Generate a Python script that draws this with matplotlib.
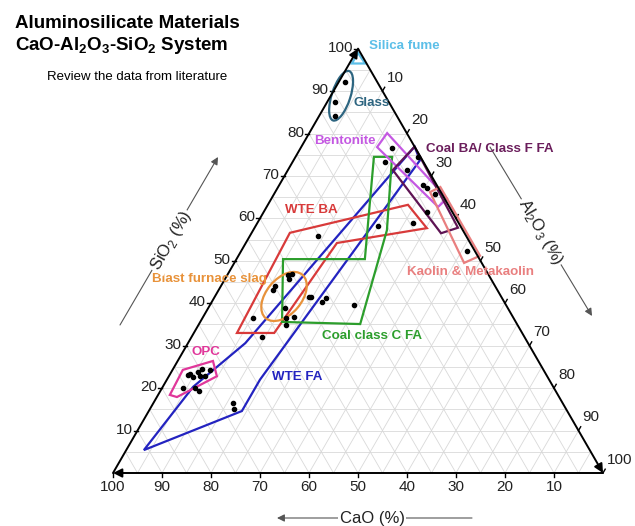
import numpy as np
import matplotlib.pyplot as plt
from matplotlib.patches import Polygon, Ellipse

plt.rcParams['font.family'] = ['Liberation Sans', 'DejaVu Sans']
plt.rcParams['mathtext.fontset'] = 'custom'
plt.rcParams['mathtext.rm'] = 'Liberation Sans'
plt.rcParams['mathtext.bf'] = 'Liberation Sans:bold'

# compositions as (CaO, Al2O3, SiO2) in %
silica_fume = [(0.5, 0.5, 99.0), (3.0, 0.5, 96.5), (0.3, 3.2, 96.5)]
glass_center = (9.0, 2.1, 88.9)
slag_center = (44.3, 14.1, 41.6)
bentonite = [(7.7, 15.5, 76.8), (4.0, 15.9, 80.1), (-0.5, 35.8, 64.7), (2.3, 35.0, 62.7)]
coal_ba_f = [(0.0, 23.1, 76.9), (7.2, 21.4, 71.4), (4.8, 38.7, 56.5), (0.7, 41.5, 57.8)]
kaolin = [(2.2, 31.6, 66.2), (-0.5, 33.1, 67.4), (-0.5, 49.3, 51.2), (3.6, 46.9, 49.5)]
wte_ba = [(58.2, 8.8, 33.0), (35.6, 7.8, 56.6), (8.2, 28.6, 63.2), (7.1, 35.2, 57.7),
          (27.2, 18.6, 54.2), (50.6, 16.4, 33.0)]
coal_c = [(47.7, 16.7, 35.6), (40.1, 9.5, 50.4), (23.4, 26.2, 50.4), (9.5, 16.0, 74.5),
          (5.8, 19.7, 74.5), (15.5, 27.3, 57.2), (32.0, 32.9, 35.1)]
wte_fa = [(91.0, 3.6, 5.4), (73.5, 6.2, 20.3), (57.7, 11.7, 30.6), (0.0, 23.1, 76.9),
          (0.5, 25.8, 73.7), (59.0, 19.0, 22.0), (66.4, 19.0, 14.6)]
opc = [(79.2, 2.4, 18.4), (73.6, 2.1, 24.3), (66.4, 7.2, 26.4), (67.4, 9.8, 22.8), (78.0, 4.1, 17.9)]

pts_glass = [(6.6, 1.3, 92.1), (11.0, 1.6, 87.4), (12.6, 3.3, 84.1)]
pts_upper = [(4.8, 18.6, 76.6), (7.8, 18.9, 73.3), (4.3, 24.3, 71.4), (0.5, 25.0, 74.5),
             (2.8, 29.3, 67.9), (2.3, 30.5, 67.2), (1.4, 32.8, 65.8), (5.2, 33.3, 61.5),
             (9.3, 31.8, 58.9), (16.8, 25.0, 58.2), (1.6, 46.1, 52.3)]
pts_middle = [(30.2, 13.9, 55.9), (41.0, 12.4, 46.6), (40.0, 13.1, 46.9), (41.2, 13.1, 45.7),
              (44.9, 11.0, 44.1), (45.8, 11.1, 43.1), (45.5, 15.7, 38.8), (53.2, 10.3, 36.5),
              (46.4, 17.1, 36.5), (44.7, 18.6, 36.7), (47.3, 17.9, 34.8), (53.6, 14.4, 32.0),
              (39.3, 19.3, 41.4), (38.9, 19.7, 41.4), (35.9, 22.9, 41.2), (37.2, 22.5, 40.3),
              (31.0, 29.4, 39.6)]
pts_wte_fa = [(67.3, 16.2, 16.5), (67.8, 17.2, 15.0)]
pts_opc = [(75.7, 4.3, 20.0), (72.6, 4.1, 23.3), (72.4, 5.0, 22.6), (70.8, 5.4, 23.8),
           (70.8, 6.3, 22.9), (69.6, 5.9, 24.5), (69.8, 7.4, 22.8), (68.1, 7.7, 24.2),
           (73.3, 6.7, 20.0), (72.8, 7.9, 19.3), (73.1, 3.8, 23.1)]

ticks = [10, 20, 30, 40, 50, 60, 70, 80, 90, 100]

H = np.sqrt(3) / 2


def tern(pts):
    a = np.atleast_2d(np.array(pts, dtype=float))
    tot = a.sum(axis=1)
    al = a[:, 1] / tot * 100
    si = a[:, 2] / tot * 100
    return np.column_stack([al + si / 2, si * H])


def fp(x, y):
    return x / 635, 1 - y / 526


fig = plt.figure(figsize=(6.35, 5.26), dpi=100)
ax = fig.add_axes([0, 0, 1, 1])
ax.set_xlim(-113 / 4.9, 522 / 4.9)
ax.set_ylim(-53 / 4.9, 473 / 4.9)
ax.axis('off')

# grid every 5 %
for k in range(5, 100, 5):
    for seg in ([(100 - k, 0, k), (0, 100 - k, k)],
                [(k, 100 - k, 0), (k, 0, 100 - k)],
                [(100 - k, k, 0), (0, k, 100 - k)]):
        xy = tern(seg)
        ax.plot(xy[:, 0], xy[:, 1], color='#d9d9d9', lw=0.6, zorder=1)

# axes with arrowheads
A = tern([(100, 0, 0)])[0]
B = tern([(0, 100, 0)])[0]
C = tern([(0, 0, 100)])[0]
for start, end in ((B, A), (C, B), (A, C)):
    ax.annotate('', xy=end, xytext=start,
                arrowprops=dict(arrowstyle='-|>', color='black', lw=1.4,
                                mutation_scale=13, shrinkA=0, shrinkB=0), zorder=5)

tk = dict(fontsize=11, color='#222222')
for t in ticks:
    p = tern([(t, 100 - t, 0)])[0]
    ax.plot([p[0], p[0]], [p[1], p[1] - 0.8], color='black', lw=1)
    ax.text(p[0], p[1] - 2.9, str(t), ha='center', va='center', **tk)
    p = tern([(100 - t, 0, t)])[0]
    ax.plot([p[0], p[0] - 0.8], [p[1], p[1]], color='black', lw=1)
    ax.text(p[0] - 1.0, p[1] + 0.2, str(t), ha='right', va='center', **tk)
    p = tern([(0, t, 100 - t)])[0]
    ax.plot([p[0], p[0] + 0.45], [p[1], p[1] + 0.78], color='black', lw=1)
    ax.text(p[0] + 0.8, p[1] + 2.7, str(t), ha='left', va='center', **tk)

# regions
regions = [
    (wte_fa, '#2323c0'), (opc, '#e0379a'), (wte_ba, '#d83a3a'), (coal_c, '#2c9e2c'),
    (bentonite, '#c458e2'), (coal_ba_f, '#5e1454'), (kaolin, '#e97f7f'),
    (silica_fume, '#5cbfe8'),
]
for verts, col in regions:
    ax.add_patch(Polygon(tern(verts), closed=True, fill=False, edgecolor=col,
                         lw=1.6, joinstyle='miter', zorder=3))

g = tern([glass_center])[0]
ax.add_patch(Ellipse(g, 10.6, 3.8, angle=72, fill=False, edgecolor='#2d6580', lw=1.6, zorder=3))
s = tern([slag_center])[0]
ax.add_patch(Ellipse(s, 11.6, 7.2, angle=50, fill=False, edgecolor='#e8923a', lw=1.6, zorder=3))

for group in (pts_glass, pts_upper, pts_middle, pts_wte_fa, pts_opc):
    xy = tern(group)
    ax.plot(xy[:, 0], xy[:, 1], 'o', color='black', ms=3.0, zorder=4)

# region labels
lab = dict(fontsize=9.6, fontweight='bold', ha='left', va='center')
fig.text(*fp(369, 46), 'Silica fume', color='#5cbfe8', **lab)
fig.text(*fp(353, 103), 'Glass', color='#2d6580', **lab)
fig.text(*fp(314, 141), 'Bentonite', color='#c458e2', **lab)
fig.text(*fp(426, 149), 'Coal BA/ Class F FA', color='#6b1e5c', **lab)
fig.text(*fp(285, 210), 'WTE BA', color='#d83a3a', **lab)
fig.text(*fp(407, 272), 'Kaolin & Metakaolin', color='#e97f7f', **lab)
fig.text(*fp(152, 279), 'Blast furnace slag', color='#e8923a', **lab)
fig.text(*fp(322, 336), 'Coal class C FA', color='#2c9e2c', **lab)
fig.text(*fp(192, 352), 'OPC', color='#e0379a', **lab)
fig.text(*fp(272, 377), 'WTE FA', color='#2323c0', **lab)

# axis titles with arrows
arr = dict(arrowstyle='-|>', color='#555555', lw=0.8, mutation_scale=11, shrinkA=0, shrinkB=0)
ax.annotate('', xy=fp(218, 157), xytext=fp(120, 325), xycoords='figure fraction',
            textcoords='figure fraction', arrowprops=arr)
ax.annotate('', xy=fp(592, 316), xytext=fp(490, 147), xycoords='figure fraction',
            textcoords='figure fraction', arrowprops=arr)
ax.annotate('', xy=fp(277, 518), xytext=fp(472, 518), xycoords='figure fraction',
            textcoords='figure fraction', arrowprops=arr)
bb = dict(facecolor='white', edgecolor='none', pad=1)
fig.text(*fp(171, 241), r'SiO$_2$ (%)', rotation=60, fontsize=12, ha='center', va='center',
         color='#222222', bbox=bb)
fig.text(*fp(541, 232), r'Al$_2$O$_3$ (%)', rotation=-60, fontsize=12, ha='center', va='center',
         color='#222222', bbox=bb)
fig.text(*fp(372, 518), 'CaO (%)', fontsize=12, ha='center', va='center', color='#222222', bbox=bb)

# titles
fig.text(*fp(15, 28), 'Aluminosilicate Materials', fontsize=13.5, fontweight='bold', va='baseline')
fig.text(*fp(15, 50), r'CaO-Al$\mathbf{_2}$O$\mathbf{_3}$-SiO$\mathbf{_2}$ System', fontsize=13.5,
         fontweight='bold', va='baseline')
fig.text(*fp(47, 80), 'Review the data from literature', fontsize=9.5, va='baseline')

fig.savefig('out.png', dpi=100)
